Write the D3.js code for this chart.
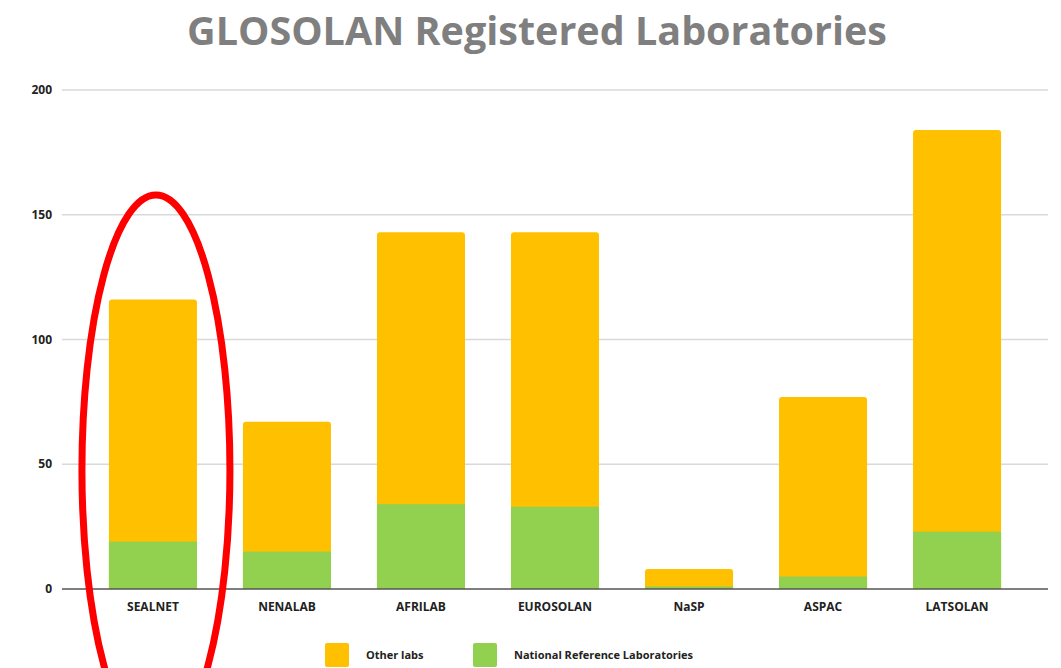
<!doctype html>
<html>
  <head>
    <title>GLOSOLAN Registered Laboratories</title>
    <script src="https://d3js.org/d3.v7.min.js"></script>
    <style>
      body { margin: 0; background: #fff; }
      text { font-family: "Open Sans", "DejaVu Sans", sans-serif; }
    </style>
  </head>
  <body>
    <div id="chart"></div>
    <script>
      const networks = ['SEALNET', 'NENALAB', 'AFRILAB', 'EUROSOLAN', 'NaSP', 'ASPAC', 'LATSOLAN'];
      const nationalLabs = [19, 15, 34, 33, 1, 5, 23];
      const otherLabs = [97, 52, 109, 110, 7, 72, 161];
      const yTicks = [0, 50, 100, 150, 200];
      const seriesNames = ['Other labs', 'National Reference Laboratories'];

      const width = 1061, height = 668;
      const orange = '#ffc000', green = '#92d050';

      const svg = d3.select('#chart')
        .append('svg')
        .attr('width', width)
        .attr('height', height);

      const x = d3.scaleBand()
        .domain(networks)
        .range([62, 1048])
        .paddingInner(0.343)
        .paddingOuter(0.35);

      const y = d3.scaleLinear()
        .domain([0, 200])
        .range([589, 90]);

      // title
      svg.append('text')
        .attr('x', 537)
        .attr('y', 45)
        .attr('text-anchor', 'middle')
        .attr('fill', '#7f7f7f')
        .style('font-size', '39.5px')
        .style('font-weight', 'bold')
        .text('GLOSOLAN Registered Laboratories');

      // gridlines
      svg.append('g')
        .selectAll('line')
        .data(yTicks.filter(d => d > 0))
        .join('line')
        .attr('x1', 62)
        .attr('x2', 1048)
        .attr('y1', d => y(d))
        .attr('y2', d => y(d))
        .attr('stroke', '#d9d9d9')
        .attr('stroke-width', 1.5);

      // y labels
      svg.append('g')
        .selectAll('text')
        .data(yTicks)
        .join('text')
        .attr('x', 52)
        .attr('y', d => y(d) + 4)
        .attr('text-anchor', 'end')
        .attr('fill', '#222')
        .style('font-size', '12px')
        .style('font-weight', 'bold')
        .text(d => d);

      const stacked = networks.map((n, i) => ({
        name: n, national: nationalLabs[i], other: otherLabs[i]
      }));

      const bars = svg.append('g');
      // orange part (full stack, rounded top)
      bars.selectAll('path.other')
        .data(stacked)
        .join('path')
        .attr('class', 'other')
        .attr('fill', orange)
        .attr('d', d => {
          const x0 = x(d.name), w = x.bandwidth();
          const top = y(d.national + d.other), bot = y(0), r = 3;
          return `M${x0},${bot}V${top + r}Q${x0},${top} ${x0 + r},${top}H${x0 + w - r}Q${x0 + w},${top} ${x0 + w},${top + r}V${bot}Z`;
        });

      bars.selectAll('rect.national')
        .data(stacked)
        .join('rect')
        .attr('class', 'national')
        .attr('fill', green)
        .attr('x', d => x(d.name))
        .attr('width', x.bandwidth())
        .attr('y', d => y(d.national))
        .attr('height', d => y(0) - y(d.national));

      // baseline
      svg.append('line')
        .attr('x1', 62)
        .attr('x2', 1048)
        .attr('y1', y(0))
        .attr('y2', y(0))
        .attr('stroke', '#555')
        .attr('stroke-width', 1.5);

      // category labels
      svg.append('g')
        .selectAll('text')
        .data(networks)
        .join('text')
        .attr('x', d => x(d) + x.bandwidth() / 2)
        .attr('y', 611)
        .attr('text-anchor', 'middle')
        .attr('fill', '#222')
        .style('font-size', '12px')
        .style('font-weight', 'bold')
        .text(d => d);

      // legend
      const legend = svg.append('g');
      const legendX = [325, 473];
      seriesNames.forEach((name, i) => {
        legend.append('rect')
          .attr('x', legendX[i])
          .attr('y', 643)
          .attr('width', 24)
          .attr('height', 24)
          .attr('rx', 2)
          .attr('fill', i === 0 ? orange : green);
        legend.append('text')
          .attr('x', legendX[i] + 41)
          .attr('y', 659)
          .attr('fill', '#222')
          .style('font-size', '11px')
          .style('font-weight', 'bold')
          .text(name);
      });

      // red annotation ellipse around SEALNET
      svg.append('ellipse')
        .attr('cx', x('SEALNET') + x.bandwidth() / 2 + 3)
        .attr('cy', 470)
        .attr('rx', 74)
        .attr('ry', 275)
        .attr('fill', 'none')
        .attr('stroke', '#ff0000')
        .attr('stroke-width', 7);
    </script>
  </body>
</html>
